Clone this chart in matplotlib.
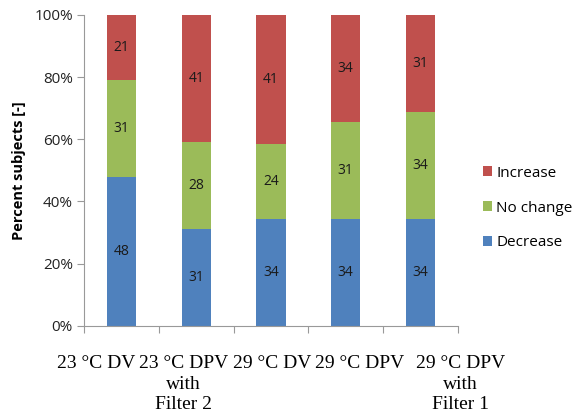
import matplotlib
matplotlib.use("Agg")
from matplotlib import pyplot as plt
import numpy as np

categories = ["23 °C DV", "23 °C DPV\nwith\nFilter 2", "29 °C DV", "29 °C DPV",
              "29 °C DPV\nwith\nFilter 1"]
decrease = [48, 31, 34, 34, 34]
no_change = [31, 28, 24, 31, 34]
increase = [21, 41, 41, 34, 31]

# label centres are shifted from the bar centres in the original figure
label_x = [-0.335, 0.83, 2.02, 3.18, 4.54]

c_dec = "#4F81BD"
c_nc = "#9BBB59"
c_inc = "#C0504D"

dec = np.array(decrease, float)
nc = np.array(no_change, float)
inc = np.array(increase, float)
tot = dec + nc + inc
p_dec = dec / tot
p_nc = nc / tot
p_inc = inc / tot

fig = plt.figure(figsize=(5.84, 4.12), dpi=100)
ax = fig.add_axes([0.144, 0.209, 0.64, 0.755])

x = np.arange(len(categories))
w = 0.39
b1 = ax.bar(x, p_dec, w, color=c_dec, label="Decrease")
b2 = ax.bar(x, p_nc, w, bottom=p_dec, color=c_nc, label="No change")
b3 = ax.bar(x, p_inc, w, bottom=p_dec + p_nc, color=c_inc, label="Increase")

for bars, vals in [(b1, decrease), (b2, no_change), (b3, increase)]:
    for r, v in zip(bars, vals):
        ax.text(r.get_x() + r.get_width() / 2, r.get_y() + r.get_height() / 2,
                str(v), ha="center", va="center", fontsize=10,
                color="#1a1a1a", family="Open Sans")

ax.set_xlim(-0.5, len(categories) - 0.5)
ax.set_ylim(0, 1)
ax.set_yticks(np.arange(0, 1.01, 0.2))
ax.set_yticklabels(["0%", "20%", "40%", "60%", "80%", "100%"],
                   family="Open Sans", fontsize=11, color="#222222")
ax.set_xticks(np.arange(-0.5, len(categories), 1))
ax.set_xticklabels([])
ax.tick_params(axis="x", length=5, color="#999999", direction="out")
ax.tick_params(axis="y", length=5, color="#999999", direction="out", pad=3)

for lx, lab in zip(label_x, categories):
    ax.annotate(lab, xy=(lx, 0), xycoords=("data", "axes fraction"),
                xytext=(0, -29), textcoords="offset pixels",
                ha="center", va="top", family="Liberation Serif",
                fontsize=14, linespacing=1.28, annotation_clip=False)

for s in ["top", "right"]:
    ax.spines[s].set_visible(False)
ax.spines["left"].set_color("#999999")
ax.spines["bottom"].set_color("#999999")

ax.set_ylabel("Percent subjects [-]", family="Open Sans", fontsize=10.5,
              fontweight="bold", labelpad=6)

handles = [b3, b2, b1]
leg = fig.legend(handles, ["Increase", "No change", "Decrease"],
                 loc="center left", bbox_to_anchor=(0.803, 0.495),
                 frameon=False, handlelength=0.6, handleheight=0.6,
                 handletextpad=0.3, labelspacing=1.3,
                 prop={"family": "Open Sans", "size": 11})

fig.savefig("out.png", dpi=100)
